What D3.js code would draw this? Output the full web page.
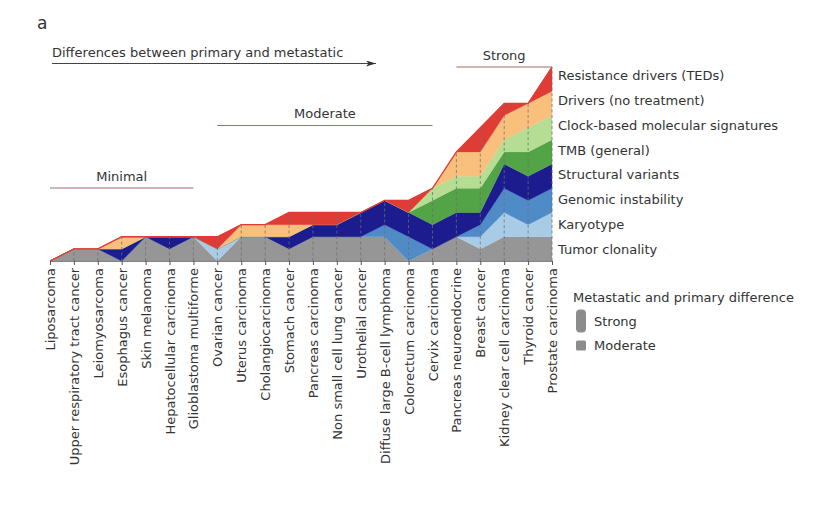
<!DOCTYPE html>
<html>
<head>
<meta charset="utf-8">
<script src="https://cdn.jsdelivr.net/npm/d3@7"></script>
<style>
  body { margin: 0; background: #fff; }
  svg { display: block; font-family: "DejaVu Sans", sans-serif; }
</style>
</head>
<body>
<div id="chart"></div>
<script>
// ─── Data ───
const categories = [
  'Liposarcoma', 'Upper respiratory tract cancer', 'Leiomyosarcoma', 'Esophagus cancer',
  'Skin melanoma', 'Hepatocellular carcinoma', 'Glioblastoma multiforme', 'Ovarian cancer',
  'Uterus carcinoma', 'Cholangiocarcinoma', 'Stomach cancer', 'Pancreas carcinoma',
  'Non small cell lung cancer', 'Urothelial cancer', 'Diffuse large B-cell lymphoma',
  'Colorectum carcinoma', 'Cervix carcinoma', 'Pancreas neuroendocrine', 'Breast cancer',
  'Kidney clear cell carcinoma', 'Thyroid cancer', 'Prostate carcinoma'
];

// 0 = none, 1 = moderate, 2 = strong difference
const tumorClonality      = [0, 1, 1, 0, 2, 1, 2, 0, 2, 2, 1, 2, 2, 2, 2, 0, 1, 2, 1, 2, 2, 2];
const karyotype           = [0, 0, 0, 0, 0, 0, 0, 1, 0, 0, 0, 0, 0, 0, 0, 0, 0, 0, 1, 2, 1, 2];
const genomicInstability  = [0, 0, 0, 0, 0, 0, 0, 0, 0, 0, 0, 0, 0, 0, 1, 2, 0, 0, 1, 2, 2, 2];
const structuralVariants  = [0, 0, 0, 1, 0, 1, 0, 0, 0, 0, 1, 1, 1, 2, 2, 2, 2, 2, 1, 2, 2, 2];
const tmbGeneral          = [0, 0, 0, 0, 0, 0, 0, 0, 0, 0, 0, 0, 0, 0, 0, 0, 2, 2, 2, 1, 2, 2];
const clockSignatures     = [0, 0, 0, 0, 0, 0, 0, 0, 0, 0, 0, 0, 0, 0, 0, 0, 1, 1, 1, 1, 2, 2];
const driversNoTreatment  = [0, 0, 0, 1, 0, 0, 0, 0, 1, 1, 1, 0, 0, 0, 0, 0, 0, 2, 2, 2, 2, 2];
const resistanceDrivers   = [0, 0, 0, 0, 0, 0, 0, 1, 0, 0, 1, 1, 1, 0, 0, 1, 0, 0, 2, 1, 0, 2];

const layerNames = [
  'Tumor clonality', 'Karyotype', 'Genomic instability', 'Structural variants',
  'TMB (general)', 'Clock-based molecular signatures', 'Drivers (no treatment)',
  'Resistance drivers (TEDs)'
];
const layerValues = [
  tumorClonality, karyotype, genomicInstability, structuralVariants,
  tmbGeneral, clockSignatures, driversNoTreatment, resistanceDrivers
];
const layerColors = [
  '#969696', '#a9cce6', '#4f8bc7', '#1c1c8f', '#52a447', '#b5dd93', '#f8c07c', '#df3c35'
];

// category groups: [label, first index, last index]
const groupNames = ['Minimal', 'Moderate', 'Strong'];
const groupStart = [0, 7, 17];
const groupEnd   = [6, 16, 21];

const legendLabels = ['Strong', 'Moderate'];

// ─── Setup ───
const width = 828, height = 513;
const textColor = '#333';

const svg = d3.select('#chart').append('svg')
  .attr('width', width)
  .attr('height', height);

const x = d3.scalePoint().domain(categories).range([50, 552]);
const y = d3.scaleLinear().domain([0, 16]).range([261, 67]);

// table for d3.stack
const rows = categories.map((c, i) => {
  const r = { category: c };
  layerNames.forEach((k, j) => { r[k] = layerValues[j][i]; });
  return r;
});
const series = d3.stack().keys(layerNames)(rows);

// ─── Areas ───
const area = d3.area()
  .x(d => x(d.data.category))
  .y0(d => y(d[0]))
  .y1(d => y(d[1]));

svg.append('g')
  .selectAll('path')
  .data(series)
  .join('path')
  .attr('d', area)
  .attr('fill', (d, i) => layerColors[i])
  .attr('stroke', (d, i) => layerColors[i])
  .attr('stroke-width', 0.3);

// red outline along the top of the stack
const topSeries = series[series.length - 1];
svg.append('path')
  .datum(topSeries)
  .attr('d', d3.line().x(d => x(d.data.category)).y(d => y(d[1])))
  .attr('fill', 'none')
  .attr('stroke', layerColors[layerColors.length - 1])
  .attr('stroke-width', 1.3);

// dashed guides per category
svg.append('g')
  .selectAll('line')
  .data(topSeries)
  .join('line')
  .attr('x1', d => x(d.data.category))
  .attr('x2', d => x(d.data.category))
  .attr('y1', y(0))
  .attr('y2', d => y(d[1]))
  .attr('stroke', '#6e6e6e')
  .attr('stroke-opacity', 0.75)
  .attr('stroke-width', 1)
  .attr('stroke-dasharray', '3,2.5');

// ─── X axis ───
const xAxis = svg.append('g')
  .attr('transform', `translate(0,${y(0)})`)
  .call(d3.axisBottom(x).tickSize(4).tickSizeOuter(0));
xAxis.select('.domain').attr('stroke', '#666').attr('stroke-width', 0.8);
xAxis.selectAll('.tick line').attr('stroke', '#555');
xAxis.selectAll('.tick text')
  .attr('transform', 'rotate(-90)')
  .attr('x', -7)
  .attr('y', 0)
  .attr('dy', '0.35em')
  .attr('text-anchor', 'end')
  .attr('fill', textColor)
  .style('font-size', '13px')
  .style('font-family', '"DejaVu Sans", sans-serif');

// ─── Layer labels on the right ───
const labelY = d3.scalePoint().domain(layerNames).range([249.5, 75.5]);
svg.append('g')
  .selectAll('text')
  .data(layerNames)
  .join('text')
  .attr('x', 558)
  .attr('y', d => labelY(d))
  .attr('dy', '0.35em')
  .attr('fill', textColor)
  .style('font-size', '13px')
  .text(d => d);

// ─── Group brackets ───
const groupY = [188, 125.5, 67];
const groups = svg.append('g');
groupNames.forEach((g, i) => {
  const x0 = x(categories[groupStart[i]]);
  const x1 = x(categories[groupEnd[i]]);
  groups.append('line')
    .attr('x1', x0).attr('x2', x1)
    .attr('y1', groupY[i]).attr('y2', groupY[i])
    .attr('stroke', '#a86a6a')
    .attr('stroke-width', 1.2);
  groups.append('text')
    .attr('x', (x0 + x1) / 2)
    .attr('y', groupY[i] - 12)
    .attr('dy', '0.35em')
    .attr('text-anchor', 'middle')
    .attr('fill', textColor)
    .style('font-size', '13px')
    .text(g);
});

// ─── Direction arrow ───
svg.append('defs').append('marker')
  .attr('id', 'arrow')
  .attr('viewBox', '0 0 10 6')
  .attr('refX', 10).attr('refY', 3)
  .attr('markerWidth', 10).attr('markerHeight', 6)
  .attr('markerUnits', 'userSpaceOnUse')
  .attr('orient', 'auto')
  .append('path')
  .attr('d', 'M0,0 L10,3 L0,6 L2.5,3 Z')
  .attr('fill', '#333');

svg.append('line')
  .attr('x1', 52).attr('x2', 376)
  .attr('y1', 63.5).attr('y2', 63.5)
  .attr('stroke', '#444')
  .attr('stroke-width', 1)
  .attr('marker-end', 'url(#arrow)');

svg.append('text')
  .attr('x', 52).attr('y', 52)
  .attr('dy', '0.35em')
  .attr('fill', textColor)
  .style('font-size', '13px')
  .text('Differences between primary and metastatic');

svg.append('text')
  .attr('x', 37).attr('y', 23)
  .attr('dy', '0.35em')
  .attr('fill', textColor)
  .style('font-size', '17px')
  .text('a');

// ─── Legend ───
const legend = svg.append('g').attr('transform', 'translate(573,297)');
legend.append('text')
  .attr('x', 0).attr('y', 0)
  .attr('dy', '0.35em')
  .attr('fill', textColor)
  .style('font-size', '13px')
  .text('Metastatic and primary difference');

const markerH = [23, 10];
const markerY = [12.5, 43.5];
legendLabels.forEach((l, i) => {
  legend.append('rect')
    .attr('x', 3).attr('y', markerY[i])
    .attr('width', 10).attr('height', markerH[i])
    .attr('rx', i === 0 ? 4 : 1.5)
    .attr('fill', '#8c8c8c');
  legend.append('text')
    .attr('x', 21).attr('y', markerY[i] + markerH[i] / 2)
    .attr('dy', '0.35em')
    .attr('fill', textColor)
    .style('font-size', '13px')
    .text(l);
});
</script>
</body>
</html>
